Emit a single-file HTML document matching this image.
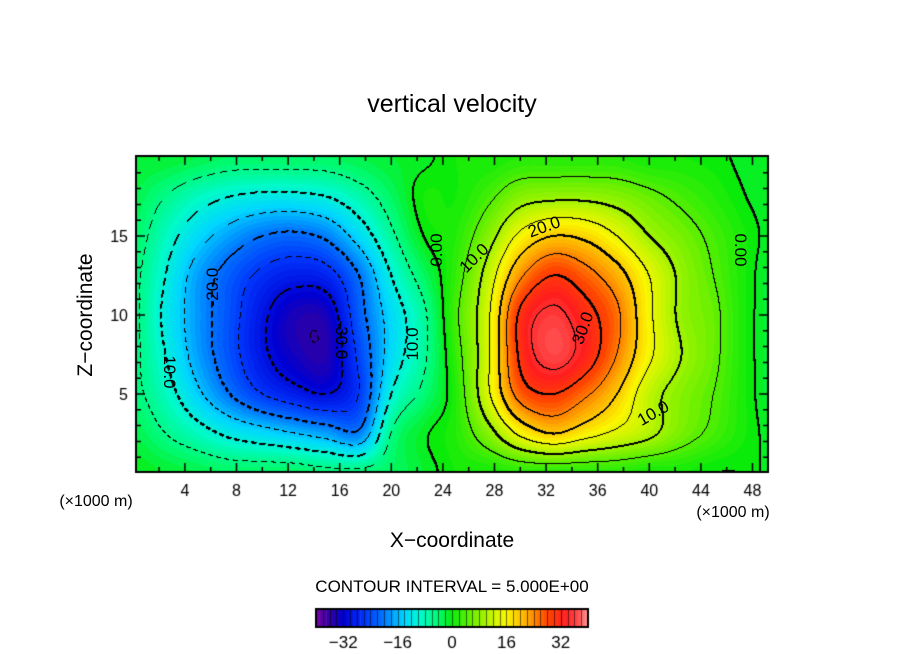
<!DOCTYPE html>
<html><head><meta charset="utf-8"><style>
body{margin:0;background:#fff;width:904px;height:654px;overflow:hidden;font-family:"Liberation Sans",sans-serif}
#wrap{position:relative;width:904px;height:654px}
canvas{position:absolute;left:0;top:0}
</style></head><body><div id="wrap">
<canvas id="cv" width="904" height="654"></canvas>
<svg id="sv" width="904" height="654" style="position:absolute;left:0;top:0">
<text x="452" y="112" font-size="25" text-anchor="middle">vertical velocity</text>
<text x="452" y="547" font-size="21" text-anchor="middle">X−coordinate</text>
<text transform="translate(92,315) rotate(-90)" font-size="21" text-anchor="middle">Z−coordinate</text>
<text x="96" y="506" font-size="16" text-anchor="middle">(×1000 m)</text>
<text x="733" y="517" font-size="16" text-anchor="middle">(×1000 m)</text>
<text x="452" y="592" font-size="17" text-anchor="middle">CONTOUR INTERVAL = 5.000E+00</text>
<g font-size="17" fill="#000">
<text transform="translate(218,287) rotate(-90)" text-anchor="middle">-20.0</text>
<text transform="translate(336,340) rotate(90)" text-anchor="middle">-30.0</text>
<text transform="translate(164,372) rotate(90)" text-anchor="middle">10.0</text>
<text transform="translate(418,344) rotate(-90)" text-anchor="middle">10.0</text>
<text transform="translate(442,250) rotate(-90)" text-anchor="middle">0.00</text>
<text transform="translate(735,250) rotate(90)" text-anchor="middle">0.00</text>
<text transform="translate(478,262) rotate(-45)" text-anchor="middle">10.0</text>
<text transform="translate(546,232) rotate(-20)" text-anchor="middle">20.0</text>
<text transform="translate(588,330) rotate(-70)" text-anchor="middle">30.0</text>
<text transform="translate(656,418) rotate(-30)" text-anchor="middle">10.0</text>
</g>
</svg></div>
<script>
// grid x = 0,2.5,...,50 ; z = 0,2.5,...,20 (rows bottom to top)
const gridX=[0,2.5,5,7.5,10,12.5,15,17.5,20,22.5,25,27.5,30,32.5,35,37.5,40,42.5,45,47.5,50];
const gridZ=[0,2.5,5,7.5,10,12.5,15,17.5,20];
const row0=[0,-1,-2,-3,-3,-3,-4,-4,-3,-1,1,1,2,2,2,2,1,1,0,0,0];
const row1=[-2,-5,-8,-11,-13,-15,-17,-19,-5,-0.5,2,8,16,20,17,14,11,7,4,1,-1];
const row2=[-4,-8,-14,-20,-25,-28,-30,-25,-10,-4,2,14,27,30,26,20,12,8,5,1,-2];
const row3=[-4,-10,-17,-23,-29,-33,-34,-24,-13,-6,3,14,31,37,33,25,16,10,6,1,-2];
const row4=[-4,-11,-17.5,-23,-29,-33.5,-33,-22,-13,-6,4,14,31,36,32,26,16,9,6,1,-2];
const row5=[-4,-10,-17,-22,-26,-28,-27,-20,-10,-3,3,12,24,30,27,22,15,9,5,1,-2];
const row6=[-3,-8,-13,-17,-20,-21,-19,-13,-6,0,2,8,16,20,19,15,10,7,4,1,-1];
const row7=[-2,-5,-8,-10,-11,-11,-10,-7,-3,1,1,4,8,9,9,8,6,4,2,0,-1];
const row8=[-1,-1,-2,-3,-3,-3,-3,-2,-1,-0.5,1,1,2,2,2,2,1,1,0.5,-0.5,-1];
const field=[row0,row1,row2,row3,row4,row5,row6,row7,row8];
const xTicks=[4,8,12,16,20,24,28,32,36,40,44,48];
const zTicks=[5,10,15];
const cbTicks=[-32,-16,0,16,32];

const L=136,R=768,T=156,B=472;
const X=x=>133.3+12.9*x, Z=z=>473-15.8*z;
const Xi=p=>(p-133.3)/12.9, Zi=p=>(473-p)/15.8;
const stops=[[-40,[120,0,170]],[-36,[50,0,160]],[-32,[0,0,210]],[-26,[0,50,250]],[-20,[0,120,255]],[-14,[0,215,255]],[-9,[0,250,200]],[-4,[0,250,110]],[0,[10,235,10]],[6,[110,240,0]],[12,[200,245,0]],[16,[250,245,0]],[22,[255,170,0]],[28,[255,70,0]],[33,[255,30,30]],[37,[255,75,75]],[40,[255,150,150]]];
function cmap(v){v=Math.max(-40,Math.min(40,v));for(let i=1;i<stops.length;i++){if(v<=stops[i][0]){const a=stops[i-1],b=stops[i],t=(v-a[0])/(b[0]-a[0]);return a[1].map((c,k)=>Math.round(c+(b[1][k]-c)*t));}}return stops[stops.length-1][1];}
function cr(p0,p1,p2,p3,t){return 0.5*(2*p1+(-p0+p2)*t+(2*p0-5*p1+4*p2-p3)*t*t+(-p0+3*p1-3*p2+p3)*t*t*t);}
function g(i,j){i=Math.max(0,Math.min(gridZ.length-1,i));j=Math.max(0,Math.min(gridX.length-1,j));return field[i][j];}
function val(x,z){const fx=Math.max(0,Math.min(gridX.length-1.0001,x/2.5)),fz=Math.max(0,Math.min(gridZ.length-1.0001,z/2.5));const j=Math.floor(fx),i=Math.floor(fz),tx=fx-j,tz=fz-i;const r=[];for(let a=-1;a<3;a++){r.push(cr(g(i+a,j-1),g(i+a,j),g(i+a,j+1),g(i+a,j+2),tx));}return cr(r[0],r[1],r[2],r[3],tz);}
const cv=document.getElementById('cv'),ctx=cv.getContext('2d');
const W=R-L,H=B-T,img=ctx.createImageData(W,H),V=new Float32Array(W*H);
for(let py=0;py<H;py++)for(let px=0;px<W;px++){V[py*W+px]=val(Xi(L+px+0.5),Zi(T+py+0.5));}
for(let k=0;k<W*H;k++){const c=cmap(Math.floor(V[k]));img.data[k*4]=c[0];img.data[k*4+1]=c[1];img.data[k*4+2]=c[2];img.data[k*4+3]=255;}
const lev=v=>Math.floor(v/5);
function setBlack(px,py){if(px<0||py<0||px>=W||py>=H)return;const k=(py*W+px)*4;img.data[k]=img.data[k+1]=img.data[k+2]=0;}
for(let py=0;py<H-1;py++)for(let px=0;px<W-1;px++){const a=lev(V[py*W+px]),b=lev(V[py*W+px+1]),c=lev(V[(py+1)*W+px]);
 if(a!==b||a!==c){const m=Math.max(a,b,c),lv=m*5;const thick=(lv%10===0);
  if(lv<0&&((px+py)%10)>=6)continue;
  setBlack(px,py);if(thick){setBlack(px+1,py);setBlack(px,py+1);}}}
ctx.putImageData(img,L,T);
ctx.strokeStyle='#000';ctx.lineWidth=2;ctx.strokeRect(L,T,W,H);
ctx.lineWidth=1.5;
for(let x=2;x<=48;x+=2){const p=X(x),len=(x%4===0)?9:5;ctx.beginPath();ctx.moveTo(p,B);ctx.lineTo(p,B-len);ctx.moveTo(p,T);ctx.lineTo(p,T+len);ctx.stroke();}
for(let z=1;z<=19;z++){const p=Z(z),len=(z%5===0)?9:5;ctx.beginPath();ctx.moveTo(L,p);ctx.lineTo(L+len,p);ctx.moveTo(R,p);ctx.lineTo(R-len,p);ctx.stroke();}
ctx.fillStyle='#000';ctx.font='16px "Liberation Sans", sans-serif';ctx.textAlign='center';
xTicks.forEach(x=>ctx.fillText(String(x),X(x),496));
ctx.textAlign='right';zTicks.forEach(z=>ctx.fillText(String(z),128,Z(z)+6));
// colorbar
const cL=316,cR=588,cT=609,cB=627,C=v=>cL+(v+40)*(cR-cL)/80;
for(let v=-40;v<40;v++){const c=cmap(v+0.5);ctx.fillStyle=`rgb(${c[0]},${c[1]},${c[2]})`;ctx.fillRect(C(v),cT,C(v+1)-C(v)+0.5,cB-cT);}
ctx.fillStyle='rgba(0,0,0,0.55)';for(let v=-40;v<40;v+=2){ctx.fillRect(Math.round(C(v)),cT,1,cB-cT);}
ctx.strokeStyle='#000';ctx.lineWidth=2;ctx.strokeRect(cL,cT,cR-cL,cB-cT);
ctx.fillStyle='#000';ctx.textAlign='center';ctx.font='17px "Liberation Sans", sans-serif';
cbTicks.forEach(v=>ctx.fillText(v<0?'−'+(-v):String(v),C(v),648));
</script></body></html>
